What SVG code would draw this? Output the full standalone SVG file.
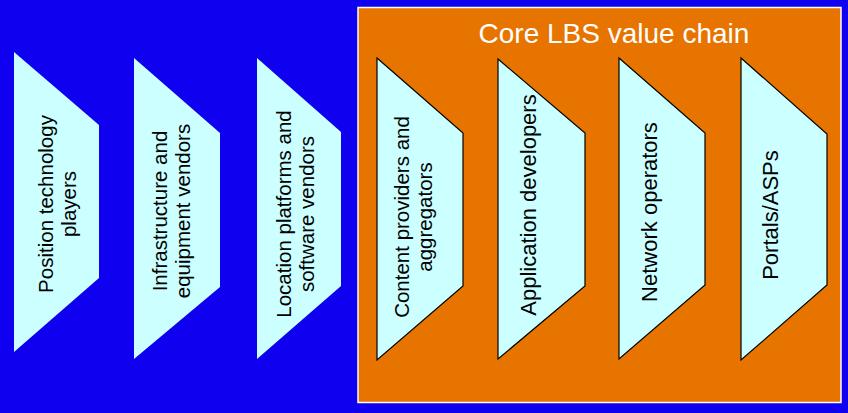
<svg xmlns="http://www.w3.org/2000/svg" width="848" height="413" viewBox="0 0 848 413">
<style>
.bg{fill:#1000F0}
.core{fill:#E87400;stroke:#FFFFFF;stroke-width:1.5}
.s{fill:#CCFFFF}
.so{fill:#CCFFFF;stroke:#000000;stroke-width:1.2}
.t{font-family:"Liberation Sans",Arial,sans-serif;font-size:20.5px;fill:#000000;text-anchor:middle;dominant-baseline:central}
.t1{font-size:22px}
.title{font-family:"Liberation Sans",Arial,sans-serif;font-size:28px;fill:#FFFFFF;text-anchor:middle}
</style>
<rect class="bg" x="0" y="0" width="848" height="413"/>
<g id="core">
<rect class="core" x="358" y="7.5" width="483" height="395"/>
<text class="title" x="614" y="43">Core LBS value chain</text>
</g>
<g id="n1">
<polygon class="s" points="14,52 99,125 99,278 14,352"/>
<text class="t" transform="rotate(-90 56 204)"><tspan x="56" y="204" dy="-11.5">Position technology</tspan><tspan x="56" y="204" dy="12">players</tspan></text>
</g>
<g id="n2">
<polygon class="s" points="134,58 220,133 220,287 134,359"/>
<text class="t" transform="rotate(-90 170 211)"><tspan x="170" y="211" dy="-11.5">Infrastructure and</tspan><tspan x="170" y="211" dy="12">equipment vendors</tspan></text>
</g>
<g id="n3">
<polygon class="s" points="257,58 341,132 341,286 257,359"/>
<text class="t" transform="rotate(-90 294 214)"><tspan x="294" y="214" dy="-11.5">Location platforms and</tspan><tspan x="294" y="214" dy="12">software vendors</tspan></text>
</g>
<g id="n4">
<polygon class="so" points="377,58 463,133 463,286 377,360"/>
<text class="t" transform="rotate(-90 412 217)"><tspan x="412" y="217" dy="-11.5">Content providers and</tspan><tspan x="412" y="217" dy="12">aggregators</tspan></text>
</g>
<g id="n5">
<polygon class="so" points="498,59 585,133 585,286 498,359"/>
<text class="t t1" transform="rotate(-90 528 205)" x="528" y="205">Application developers</text>
</g>
<g id="n6">
<polygon class="so" points="619,58 705,133 705,285 619,359"/>
<text class="t t1" transform="rotate(-90 649 212)" x="649" y="212">Network operators</text>
</g>
<g id="n7">
<polygon class="so" points="741,58 827,134 827,285 741,360"/>
<text class="t t1" transform="rotate(-90 770 215)" x="770" y="215">Portals/ASPs</text>
</g>
<g id="connectors"/>
</svg>
